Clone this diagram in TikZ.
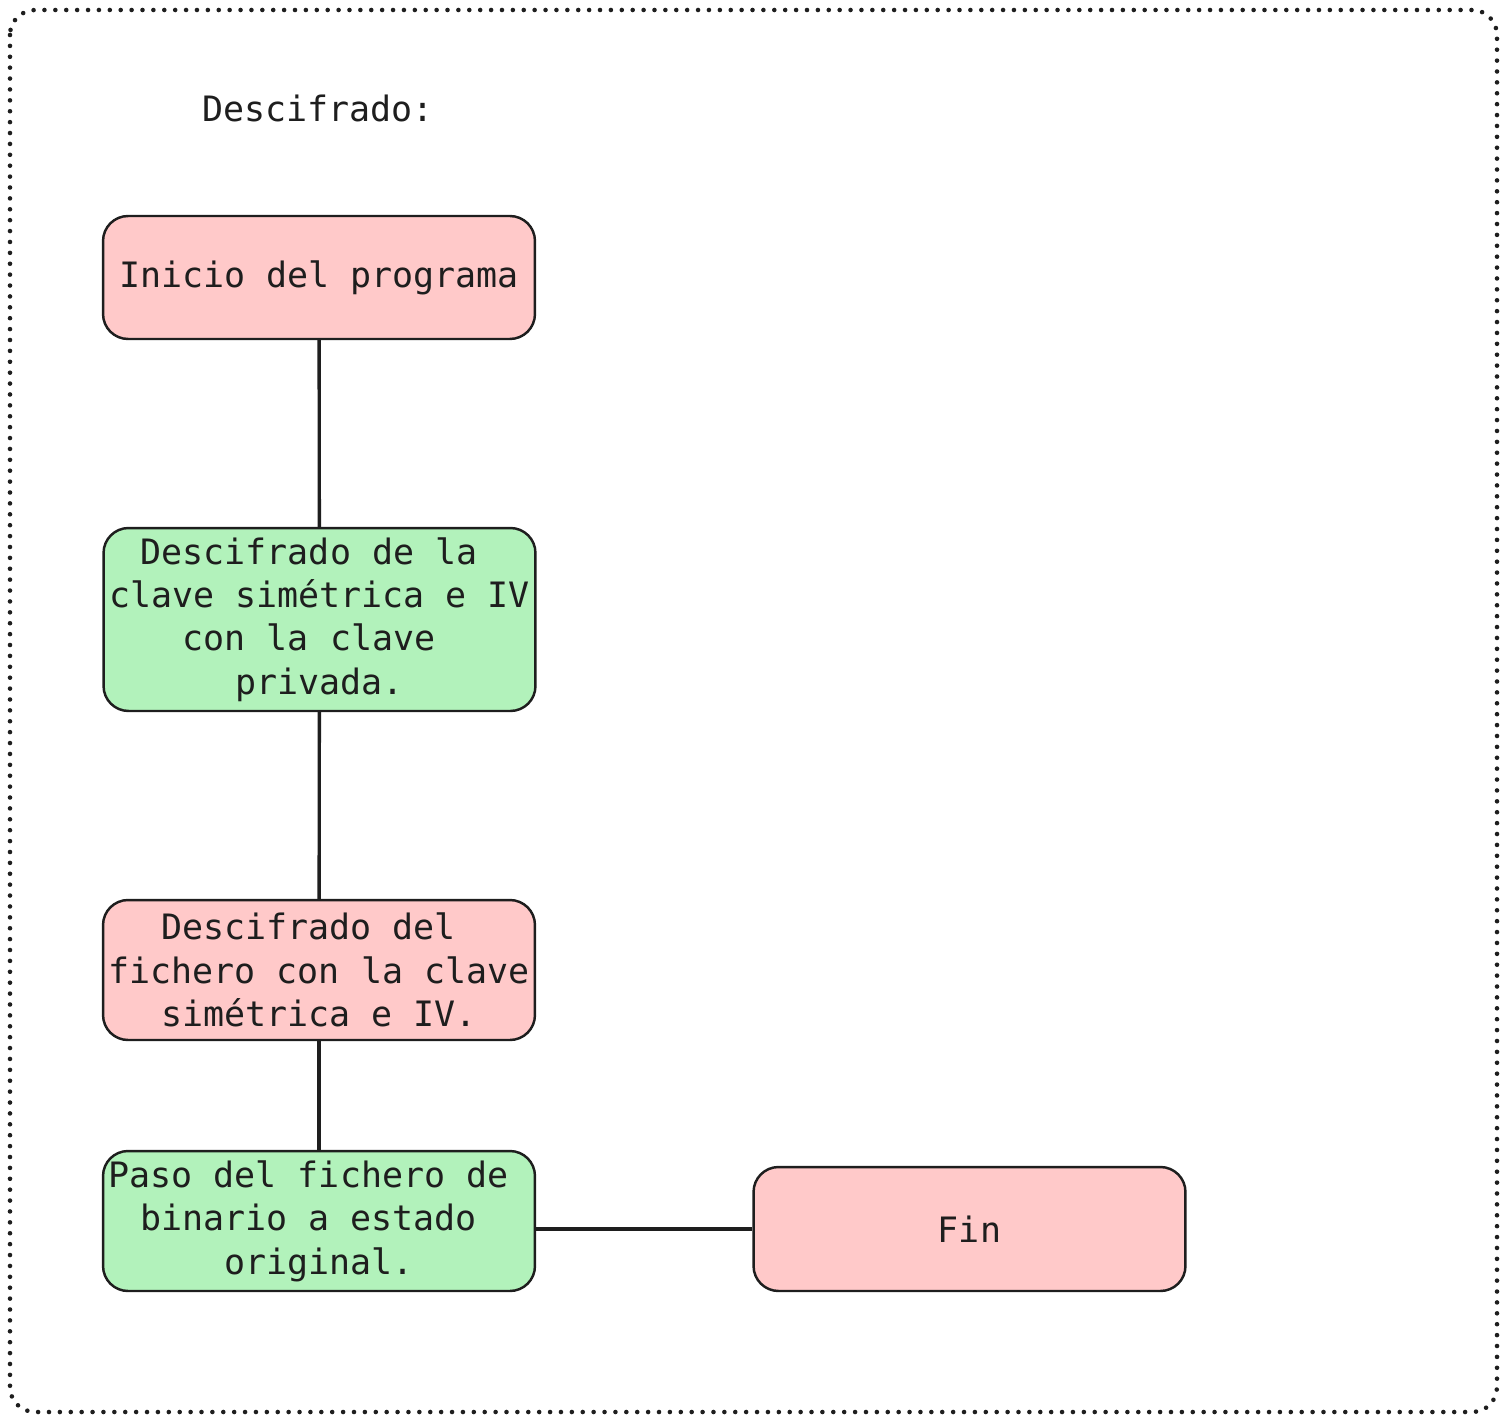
\documentclass[tikz,border=0pt]{standalone}
\usepackage{fontspec}
\usepackage{xcolor}
\usepackage{tikz}
\usetikzlibrary{calc}

\newfontfamily\flowfont{DejaVu Sans Mono}
\newcommand{\tsp}{\hphantom{x}}

\definecolor{ink}{HTML}{1E1E1E}
\definecolor{rosa}{HTML}{FFC9C9}
\definecolor{verde}{HTML}{B2F2BB}

\tikzset{
  paso/.style={draw=ink, line width=1.4pt, rounded corners=0.5cm,
    minimum width=8.64cm, inner sep=0pt, align=center, text=ink,
    font=\flowfont\fontsize{19.9pt}{24.7pt}\selectfont},
  rojo/.style={paso, fill=rosa},
  verdeb/.style={paso, fill=verde},
  enlace/.style={draw=ink, line width=1.9pt}
}

\begin{document}
\begin{tikzpicture}[x=0.02cm, y=-0.02cm]
% Define the page size (pixels of the reference)
\def\ancho{1506}
\def\alto{1422}
\useasboundingbox (0,0) rectangle (\ancho,\alto);

% Dotted frame
\draw[ink, line width=2.6pt, line cap=round, dash pattern=on 0pt off 6.2pt,
  rounded corners=0.5cm] (10,10) rectangle (1497,1412);

% Title
\node[text=ink, font=\flowfont\fontsize{19.9pt}{24.7pt}\selectfont] (titulo) at (318,108) {Descifrado:};

% Steps of the flow
\node[rojo, minimum height=2.46cm] (inicio) at (319,277.5) {Inicio del programa};
\node[verdeb, minimum height=3.66cm] (clave) at (319.5,619.5)
  {Descifrado de la\tsp\\clave simétrica e IV\\con la clave\tsp\\privada.};
\node[rojo, minimum height=2.8cm] (fichero) at (319,970)
  {Descifrado del\tsp\\fichero con la clave\\simétrica e IV.};
\node[verdeb, minimum height=2.8cm] (binario) at (319,1221)
  {Paso del fichero de\tsp\\binario a estado\tsp\\original.};
\node[rojo, minimum height=2.48cm] (fin) at (969.5,1229) {Fin};

% Connectors
\draw[enlace] (inicio) -- (clave);
\draw[enlace] (clave) -- (fichero);
\draw[enlace] (fichero) -- (binario);
\draw[enlace] (binario.east |- fin.west) -- (fin.west);

\end{tikzpicture}
\end{document}
